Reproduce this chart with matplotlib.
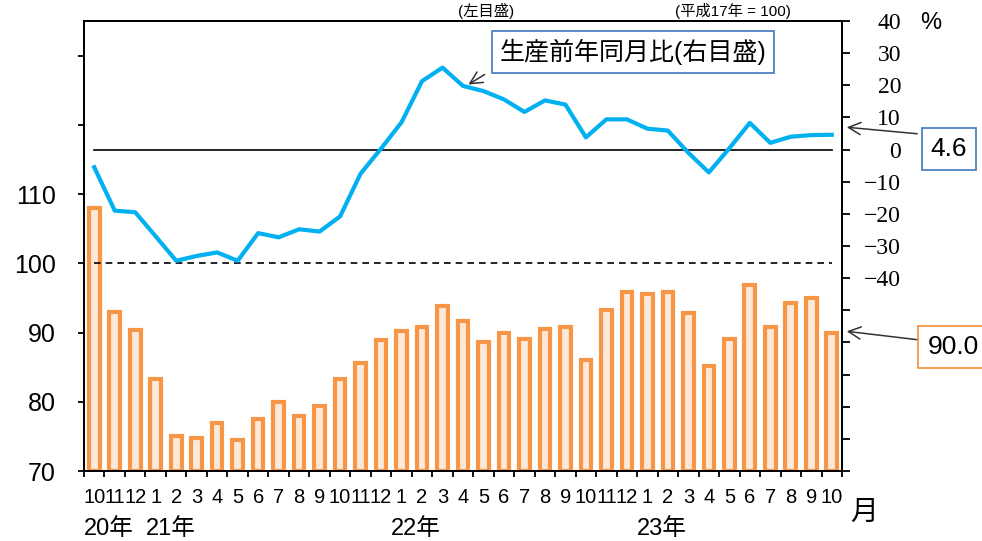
import matplotlib
matplotlib.use("Agg")
import matplotlib.pyplot as plt
import numpy as np

# ---- data ----
months = [10, 11, 12, 1, 2, 3, 4, 5, 6, 7, 8, 9, 10, 11, 12,
          1, 2, 3, 4, 5, 6, 7, 8, 9, 10, 11, 12,
          1, 2, 3, 4, 5, 6, 7, 8, 9, 10]
production_index = [108.0, 93.0, 90.3, 83.3, 75.0, 74.7, 76.9, 74.5, 77.5, 80.0,
                    78.0, 79.4, 83.3, 85.6, 88.9, 90.2, 90.8, 93.9, 91.6, 88.6,
                    89.9, 89.1, 90.5, 90.8, 86.1, 93.3, 95.8, 95.5, 95.8, 92.8,
                    85.2, 89.1, 96.9, 90.8, 94.2, 95.0, 90.0]
yoy_change = [-5.5, -19.0, -19.5, -27.0, -34.6, -33.1, -32.0, -34.6, -26.0, -27.3,
              -24.8, -25.5, -20.8, -7.5, 0.3, 8.5, 21.3, 25.5, 19.8, 18.2,
              15.6, 11.7, 15.3, 14.0, 3.8, 9.4, 9.4, 6.5, 5.9, -1.0,
              -7.1, 0.4, 8.3, 2.1, 4.0, 4.5, 4.6]
year_labels = ["20年", "21年", "22年", "23年"]
year_start_idx = [0, 3, 15, 27]
left_ticks = [70, 80, 90, 100, 110, 120, 130]
left_ticklabels = ["70", "80", "90", "100", "110", "", ""]
right_ticks = list(range(-100, 41, 10))
last_index_label = "90.0"
last_yoy_label = "4.6"

JP = ["Liberation Sans", "Noto Sans CJK JP"]
plt.rcParams["font.family"] = JP

fig = plt.figure(figsize=(9.82, 5.41), dpi=100)
ax = fig.add_axes([84 / 982, 1 - 471 / 541, (842 - 84) / 982, (471 - 21) / 541])
ax2 = ax.twinx()

x = np.arange(len(months))

# bars
ax.bar(x, np.array(production_index) - 70, bottom=70, width=0.52,
       facecolor="#FDE9D9", edgecolor="#F79646", linewidth=3, zorder=2)
ax.set_xlim(-0.5, len(months) - 0.5)
ax.set_ylim(70, 135)
ax.set_yticks(left_ticks)
ax.set_yticklabels(left_ticklabels, fontsize=18)
ax.tick_params(axis="y", direction="out", length=4.5, width=1.3, pad=16)

# dashed 100 line
ax.plot([0, len(months) - 1], [100, 100], ls=(0, (4, 3)), color="black", lw=1.2, zorder=3)

# x ticks
ax.set_xticks(x)
ax.set_xticklabels([str(m) for m in months], fontsize=14.5)
ax.tick_params(axis="x", length=0, pad=12)
ax.set_xticks(np.arange(-0.5, len(months), 1), minor=True)
ax.tick_params(axis="x", which="minor", direction="out", length=4.5, width=1.3)

for sp in ax.spines.values():
    sp.set_linewidth(1.4)
for sp in ax2.spines.values():
    sp.set_linewidth(1.4)

# line (right axis)
ax2.plot(x, yoy_change, color="#00B0F0", lw=3, zorder=4)
ax2.plot([0, len(months) - 1], [0, 0], color="black", lw=1.2, zorder=3)
ax2.set_ylim(-100, 40)
ax2.set_yticks(right_ticks)
ax2.set_yticklabels([("%d" % t).replace("-", "\u2212") if t >= -40 else "" for t in right_ticks],
                    fontsize=17, family="Liberation Serif")
for t in ax2.get_yticklabels():
    t.set_horizontalalignment("right")
ax2.tick_params(axis="y", direction="out", length=5.5, width=1.3, pad=37)

# year labels
for lbl, i in zip(year_labels, year_start_idx):
    ax.text(i - 0.5, -0.105, lbl, transform=ax.get_xaxis_transform(), ha="left", va="top",
            fontsize=17, family=JP)

def fp(px, py):
    return (px / 982, 1 - py / 541)

fig.text(*fp(864, 513), "月", fontsize=20, ha="center", va="center", family=JP)
fig.text(*fp(931, 23), "%", fontsize=17, ha="center", va="center")

# top texts (cut off in the reference; kept fully visible here)
fig.text(*fp(486, 19), "(左目盛)", fontsize=11, ha="center", va="bottom", family=JP)
fig.text(*fp(733, 19), "(平成17年 = 100)", fontsize=11, ha="center", va="bottom", family=JP)

# legend-like annotation box
fig.text(*fp(633, 52), "生産前年同月比(右目盛)", fontsize=18, ha="center", va="center", family=JP,
         bbox=dict(boxstyle="square,pad=0.3", facecolor="white", edgecolor="#4F81BD", lw=1.3))
ax.annotate("", xy=fp(466, 86), xycoords="figure fraction", xytext=fp(487, 73),
            textcoords="figure fraction",
            arrowprops=dict(arrowstyle="->", color="#333333", lw=1.1, mutation_scale=22))

# value boxes
fig.text(*fp(949, 149), last_yoy_label, fontsize=19, ha="center", va="center",
         bbox=dict(boxstyle="square,pad=0.35", facecolor="white", edgecolor="#4F81BD", lw=1.3))
ax.annotate("", xy=fp(844, 127), xycoords="figure fraction", xytext=fp(920, 134),
            textcoords="figure fraction",
            arrowprops=dict(arrowstyle="->", color="#333333", lw=1.1, mutation_scale=22))

fig.text(*fp(953, 347), last_index_label, fontsize=19, ha="center", va="center",
         bbox=dict(boxstyle="square,pad=0.35", facecolor="white", edgecolor="#F79646", lw=1.3))
ax.annotate("", xy=fp(844, 331), xycoords="figure fraction", xytext=fp(920, 340),
            textcoords="figure fraction",
            arrowprops=dict(arrowstyle="->", color="#333333", lw=1.1, mutation_scale=22))

fig.savefig("out.png", dpi=100)
